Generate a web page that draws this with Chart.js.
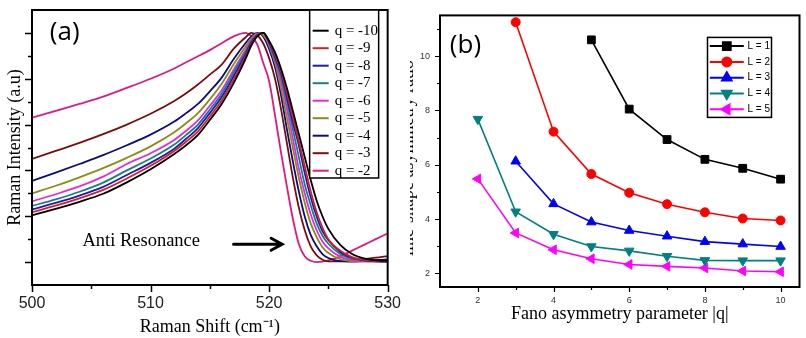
<!DOCTYPE html>
<html>
<head>
<meta charset="utf-8">
<script src="https://cdn.jsdelivr.net/npm/chart.js@4.4.0/dist/chart.umd.min.js"></script>
<style>
  html, body { margin: 0; padding: 0; background: #fff; }
  #wrap { position: relative; width: 806px; height: 338px; overflow: hidden; background: #fff; }
  #boxA { position: absolute; left: 0; top: 0; width: 410px; height: 338px; }
  #boxB { position: absolute; left: 410px; top: 0; width: 396px; height: 338px; }
</style>
</head>
<body>
<div id="wrap">
  <div id="boxA"><canvas id="chartA" width="410" height="338"></canvas></div>
  <div id="boxB"><canvas id="chartB" width="396" height="338"></canvas></div>
</div>
<script>
// ---- panel (a): Fano line shapes, Raman shift (cm-1) vs normalised intensity ----
const shiftX = [500, 502, 504, 506, 508, 510, 512, 513, 514, 515, 516, 517, 518, 518.5, 519, 519.5,
                520, 520.5, 521, 521.5, 522, 522.5, 523, 523.5, 524, 524.5, 525, 526, 527, 528, 529, 530];

const iqM10 = [0.204, 0.232, 0.263, 0.298, 0.348, 0.405, 0.472, 0.51, 0.555, 0.62, 0.69, 0.78, 0.885, 0.945, 0.985, 1.0,
               0.965, 0.915, 0.845, 0.76, 0.66, 0.56, 0.46, 0.36, 0.27, 0.20, 0.145, 0.075, 0.035, 0.016, 0.008, 0.005];
const iqM9  = [0.218, 0.246, 0.278, 0.315, 0.365, 0.42, 0.485, 0.525, 0.57, 0.635, 0.705, 0.795, 0.895, 0.952, 0.988, 1.0,
               0.963, 0.905, 0.835, 0.74, 0.635, 0.53, 0.42, 0.31, 0.22, 0.15, 0.10, 0.05, 0.022, 0.01, 0.005, 0.003];
const iqM8  = [0.23, 0.258, 0.29, 0.328, 0.38, 0.433, 0.495, 0.538, 0.585, 0.65, 0.72, 0.81, 0.905, 0.958, 0.99, 1.0,
               0.96, 0.895, 0.825, 0.72, 0.61, 0.51, 0.39, 0.285, 0.20, 0.135, 0.095, 0.044, 0.019, 0.008, 0.004, 0.002];
const iqM7  = [0.245, 0.274, 0.307, 0.347, 0.40, 0.452, 0.513, 0.555, 0.60, 0.665, 0.735, 0.825, 0.915, 0.963, 0.992, 1.0,
               0.956, 0.885, 0.81, 0.70, 0.58, 0.46, 0.34, 0.25, 0.17, 0.115, 0.08, 0.035, 0.015, 0.007, 0.003, 0.002];
const iqM6  = [0.265, 0.296, 0.33, 0.373, 0.428, 0.475, 0.533, 0.573, 0.618, 0.682, 0.75, 0.838, 0.925, 0.968, 0.995, 1.0,
               0.95, 0.88, 0.79, 0.67, 0.54, 0.41, 0.30, 0.21, 0.14, 0.09, 0.06, 0.024, 0.009, 0.004, 0.002, 0.003];
const iqM5  = [0.30, 0.333, 0.37, 0.41, 0.455, 0.505, 0.567, 0.606, 0.65, 0.71, 0.778, 0.862, 0.94, 0.976, 0.998, 0.99,
               0.945, 0.87, 0.76, 0.63, 0.50, 0.37, 0.26, 0.17, 0.11, 0.065, 0.04, 0.013, 0.004, 0.002, 0.003, 0.005];
const iqM4  = [0.354, 0.39, 0.428, 0.467, 0.51, 0.556, 0.613, 0.65, 0.69, 0.745, 0.805, 0.885, 0.955, 0.985, 1.0, 0.985,
               0.93, 0.85, 0.73, 0.58, 0.44, 0.31, 0.20, 0.12, 0.07, 0.035, 0.018, 0.004, 0.002, 0.004, 0.008, 0.012];
const iqM3  = [0.45, 0.485, 0.52, 0.558, 0.60, 0.647, 0.703, 0.737, 0.775, 0.818, 0.862, 0.93, 0.98, 1.0, 0.99, 0.955,
               0.89, 0.80, 0.67, 0.52, 0.37, 0.24, 0.14, 0.07, 0.03, 0.01, 0.003, 0.003, 0.008, 0.013, 0.019, 0.026];
const iqM2  = [0.63, 0.66, 0.69, 0.722, 0.76, 0.80, 0.845, 0.872, 0.898, 0.925, 0.955, 0.985, 1.0, 0.985, 0.95, 0.87,
               0.79, 0.64, 0.48, 0.33, 0.19, 0.08, 0.025, 0.006, 0.0, 0.002, 0.008, 0.025, 0.05, 0.075, 0.10, 0.125];

const qLabels = ['q = -10', 'q = -9', 'q = -8', 'q = -7', 'q = -6', 'q = -5', 'q = -4', 'q = -3', 'q = -2'];
const qSeries = [iqM10, iqM9, iqM8, iqM7, iqM6, iqM5, iqM4, iqM3, iqM2];
const qColors = ['#000000', '#d42026', '#1c1cb4', '#138282', '#e228e2', '#8c8c12', '#0c0c80', '#7c0c0c', '#e3187c'];

const shiftMajor = [500, 510, 520, 530];
const shiftMinor = [505, 515, 525];
const intensMajor = [0, 0.2, 0.4, 0.6, 0.8, 1.0];
const intensMinor = [0.1, 0.3, 0.5, 0.7, 0.9];

// ---- panel (b): line-shape asymmetry ratio vs |q| ----
const absQ = [2, 3, 4, 5, 6, 7, 8, 9, 10];
const ratioL1 = [null, null, null, 10.6, 8.05, 6.93, 6.2, 5.87, 5.47];
const ratioL2 = [null, 11.25, 7.22, 5.66, 4.97, 4.55, 4.25, 4.02, 3.95];
const ratioL3 = [null, 6.13, 4.56, 3.89, 3.58, 3.37, 3.17, 3.08, 2.99];
const ratioL4 = [7.68, 4.27, 3.44, 2.99, 2.83, 2.63, 2.48, 2.47, 2.47];
const ratioL5 = [5.48, 3.49, 2.87, 2.54, 2.33, 2.26, 2.20, 2.09, 2.06];

const lLabels = ['L = 1', 'L = 2', 'L = 3', 'L = 4', 'L = 5'];
const lSeries = [ratioL1, ratioL2, ratioL3, ratioL4, ratioL5];
const lColors = ['#000000', '#ff0000', '#0000ff', '#008080', '#ff00ff'];
const lMarkers = ['rect', 'circle', 'triangle', 'triangle', 'triangle'];
const lRotation = [0, 0, 0, 180, -90];

const qMajor = [2, 4, 6, 8, 10];
const qMinor = [3, 5, 7, 9];
const ratioMajor = [2, 4, 6, 8, 10];
const ratioMinor = [3, 5, 7, 9, 11];

const SERIF = '"Liberation Serif", "Times New Roman", serif';
const SANS = '"Liberation Sans", Arial, sans-serif';

// Box frame round the plot plus outward major/minor tick marks
const frameTicks = {
  id: 'frameTicks',
  afterDraw(chart, args, o) {
    const { ctx, chartArea: a, scales } = chart;
    ctx.save();
    ctx.strokeStyle = '#000';
    ctx.lineWidth = o.tickWidth;
    ctx.beginPath();
    const mark = (axis, vals, len) => vals.forEach(v => {
      const p = Math.round(scales[axis].getPixelForValue(v)) + 0.5;
      if (axis === 'x') { ctx.moveTo(p, a.bottom); ctx.lineTo(p, a.bottom + len); }
      else { ctx.moveTo(a.left, p); ctx.lineTo(a.left - len, p); }
    });
    mark('x', o.xMajor, o.major);
    mark('x', o.xMinor, o.minor);
    mark('y', o.yMajor, o.major);
    mark('y', o.yMinor, o.minor);
    ctx.stroke();
    ctx.lineWidth = o.frameWidth;
    ctx.strokeRect(a.left, a.top, a.right - a.left, a.bottom - a.top);
    ctx.restore();
  }
};

// Boxed legend inside the plot area
const boxLegend = {
  id: 'boxLegend',
  afterDraw(chart, args, o) {
    const { ctx, chartArea: a } = chart;
    const x0 = a.right - o.right - o.width;
    const y0 = a.top + o.top;
    ctx.save();
    ctx.fillStyle = '#fff';
    ctx.fillRect(x0, y0, o.width, o.height);
    ctx.strokeStyle = '#000';
    ctx.lineWidth = o.borderWidth;
    ctx.strokeRect(x0, y0, o.width, o.height);
    chart.data.datasets.forEach((ds, i) => {
      const cy = y0 + o.first + i * o.step;
      ctx.strokeStyle = ds.borderColor;
      ctx.lineWidth = o.lineWidth;
      ctx.beginPath();
      ctx.moveTo(x0 + o.lineStart, cy);
      ctx.lineTo(x0 + o.lineStart + o.lineLen, cy);
      ctx.stroke();
      if (ds.pointRadius > 0) {
        ctx.fillStyle = ds.pointBackgroundColor;
        ctx.strokeStyle = ds.borderColor;
        Chart.helpers.drawPoint(ctx, {
          pointStyle: ds.pointStyle, rotation: ds.pointRotation || 0,
          radius: ds.pointRadius, borderWidth: 1
        }, x0 + o.lineStart + o.lineLen / 2, cy);
      }
      ctx.fillStyle = '#000';
      ctx.font = o.font;
      ctx.textAlign = 'left';
      ctx.textBaseline = 'middle';
      ctx.fillText(ds.label, x0 + o.textX, cy);
    });
    ctx.restore();
  }
};

// Free text and the arrow, placed in data units
const notes = {
  id: 'notes',
  afterDraw(chart, args, o) {
    const { ctx, scales: { x, y } } = chart;
    ctx.save();
    ctx.fillStyle = '#000';
    ctx.textAlign = 'left';
    ctx.textBaseline = 'middle';
    (o.texts || []).forEach(t => {
      ctx.font = t.font;
      ctx.fillText(t.text, x.getPixelForValue(t.x), y.getPixelForValue(t.y));
    });
    if (o.arrow) {
      const x1 = x.getPixelForValue(o.arrow.from), x2 = x.getPixelForValue(o.arrow.to);
      const yy = y.getPixelForValue(o.arrow.y);
      ctx.strokeStyle = '#000';
      ctx.lineWidth = 3;
      ctx.lineCap = 'round';
      ctx.beginPath();
      ctx.moveTo(x1, yy); ctx.lineTo(x2 - 1, yy);
      ctx.moveTo(x2 - 11, yy - 6); ctx.lineTo(x2, yy); ctx.lineTo(x2 - 11, yy + 6);
      ctx.stroke();
    }
    ctx.restore();
  }
};

const setTicks = vals => scale => { scale.ticks = vals.map(v => ({ value: v })); };

new Chart(document.getElementById('chartA'), {
  type: 'line',
  data: {
    datasets: qSeries.map((s, i) => ({
      label: qLabels[i],
      data: shiftX.map((x, k) => ({ x, y: s[k] })),
      borderColor: qColors[i],
      borderWidth: 1.8,
      pointRadius: 0,
      cubicInterpolationMode: 'monotone',
      fill: false,
    })),
  },
  options: {
    responsive: false,
    devicePixelRatio: 1,
    animation: false,
    layout: { padding: { top: 10, right: 18, left: 0, bottom: 0 } },
    plugins: {
      legend: { display: false },
      tooltip: { enabled: false },
      frameTicks: { xMajor: shiftMajor, xMinor: shiftMinor, yMajor: intensMajor, yMinor: intensMinor,
                    major: 7, minor: 4, tickWidth: 1.5, frameWidth: 2 },
      boxLegend: { right: 9, width: 69, top: 0, height: 168, first: 20.7, step: 17.5,
                   lineStart: 3, lineLen: 16, textX: 25, lineWidth: 2, borderWidth: 1.5,
                   font: '15px ' + SERIF },
      notes: {
        texts: [
          { text: '(a)', x: 501.5, y: 1.0, font: '26px "Open Sans", sans-serif' },
          { text: 'Anti Resonance', x: 504.25, y: 0.093, font: '18.5px ' + SERIF },
        ],
        arrow: { from: 517.0, to: 521.1, y: 0.078 },
      },
    },
    scales: {
      x: {
        type: 'linear', min: 500, max: 530,
        afterBuildTicks: setTicks(shiftMajor),
        afterFit: s => { s.height = 53; },
        grid: { display: false, drawTicks: false },
        border: { display: false },
        ticks: { font: { family: SANS, size: 16 }, color: '#222', padding: 9, maxRotation: 0, autoSkip: false },
        title: { display: true, text: 'Raman Shift (cm⁻¹)', color: '#000',
                 font: { family: SERIF, size: 18 }, padding: { top: 0, bottom: 0 } },
      },
      y: {
        type: 'linear', min: -0.1, max: 1.1,
        afterBuildTicks: setTicks(intensMajor),
        afterFit: s => { s.width = 32; },
        grid: { display: false, drawTicks: false },
        border: { display: false },
        ticks: { display: false },
        title: { display: true, text: 'Raman Intensity (a.u)', color: '#000',
                 font: { family: SERIF, size: 18 }, padding: { top: 4, bottom: 0 } },
      },
    },
  },
  plugins: [frameTicks, boxLegend, notes],
});

new Chart(document.getElementById('chartB'), {
  type: 'line',
  data: {
    datasets: lSeries.map((s, i) => ({
      label: lLabels[i],
      data: absQ.map((x, k) => ({ x, y: s[k] })).filter(p => p.y !== null),
      borderColor: lColors[i],
      backgroundColor: lColors[i],
      pointBackgroundColor: lColors[i],
      borderWidth: 1.6,
      pointStyle: lMarkers[i],
      pointRotation: lRotation[i],
      pointRadius: lMarkers[i] === 'circle' ? 4.5 : 5.5,
      pointBorderWidth: 1,
      tension: 0,
      fill: false,
    })),
  },
  options: {
    responsive: false,
    devicePixelRatio: 1,
    animation: false,
    layout: { padding: { top: 5, right: 2, left: 0, bottom: 0 } },
    plugins: {
      legend: { display: false },
      tooltip: { enabled: false },
      frameTicks: { xMajor: qMajor, xMinor: qMinor, yMajor: ratioMajor, yMinor: ratioMinor,
                    major: 5, minor: 3, tickWidth: 1.2, frameWidth: 2 },
      boxLegend: { right: 28, width: 64, top: 22, height: 80, first: 8.7, step: 15.8,
                   lineStart: 2.3, lineLen: 34, textX: 40, lineWidth: 2, borderWidth: 1.5,
                   font: '10px ' + SANS },
      notes: {
        texts: [ { text: '(b)', x: 1.26, y: 10.4, font: '26px "Open Sans", sans-serif' } ],
      },
    },
    scales: {
      x: {
        type: 'linear', min: 1, max: 10.5,
        afterBuildTicks: setTicks(qMajor),
        afterFit: s => { s.height = 51; },
        grid: { display: false, drawTicks: false },
        border: { display: false },
        ticks: { font: { family: SANS, size: 9 }, color: '#333', padding: 8, maxRotation: 0, autoSkip: false },
        title: { display: true, text: 'Fano asymmetry parameter |q|', color: '#000',
                 font: { family: SERIF, size: 18 }, padding: { top: 0, bottom: 13 } },
      },
      y: {
        type: 'linear', min: 1.5, max: 11.5,
        afterBuildTicks: setTicks(ratioMajor),
        afterFit: s => { s.width = 30; },
        grid: { display: false, drawTicks: false },
        border: { display: false },
        ticks: { font: { family: SANS, size: 9 }, color: '#333', padding: 10 },
        title: { display: true, text: 'line-shape asymmetry ratio   ', color: '#000',
                 font: { family: SERIF, size: 18 }, padding: { top: -13, bottom: 0 } },
      },
    },
  },
  plugins: [frameTicks, boxLegend, notes],
});
</script>
</body>
</html>
